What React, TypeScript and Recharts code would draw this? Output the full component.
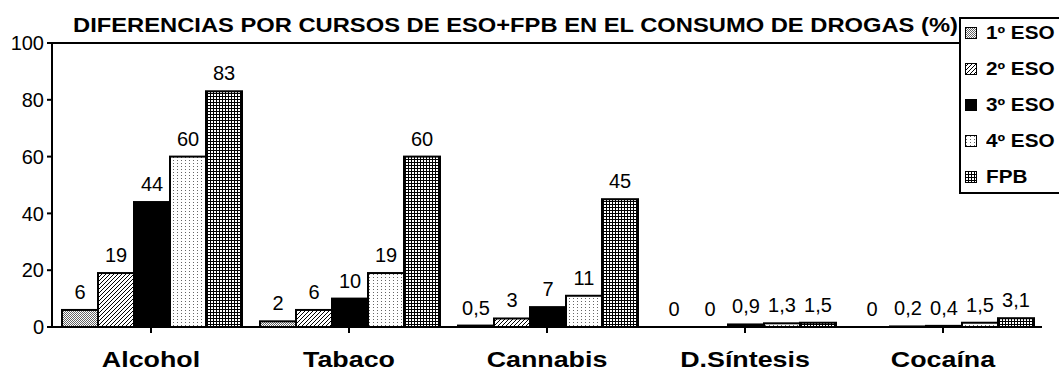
import React from 'react';
import { BarChart, Bar, XAxis, YAxis, LabelList, ReferenceLine } from 'recharts';

const categories = ['Alcohol', 'Tabaco', 'Cannabis', 'D.Síntesis', 'Cocaína'];
const eso1 = [6, 2, 0.5, 0, 0];
const eso2 = [19, 6, 3, 0, 0.2];
const eso3 = [44, 10, 7, 0.9, 0.4];
const eso4 = [60, 19, 11, 1.3, 1.5];
const fpb = [83, 60, 45, 1.5, 3.1];
const yTicks = [0, 20, 40, 60, 80, 100];

const seriesDefs = [
  { key: 'eso1', name: '1º ESO', values: eso1, fill: 'url(#p1)' },
  { key: 'eso2', name: '2º ESO', values: eso2, fill: 'url(#p2)' },
  { key: 'eso3', name: '3º ESO', values: eso3, fill: '#000' },
  { key: 'eso4', name: '4º ESO', values: eso4, fill: 'url(#p4)' },
  { key: 'fpb', name: 'FPB', values: fpb, fill: 'url(#p5)' },
];

const data = categories.map((c, i) => {
  const row: any = { name: c };
  seriesDefs.forEach((s) => (row[s.key] = s.values[i]));
  return row;
});

const FONT = '"Liberation Sans", Arial, sans-serif';
const fmt = (v: any) => String(v).replace('.', ',');

const CatTick = (props: any) => {
  const { x, y, payload } = props;
  return (
    <g transform={`translate(${x},${y + 32}) scale(1.22,1)`}>
      <text x={0} y={0} textAnchor="middle" fontFamily={FONT} fontWeight="bold" fontSize={22} fill="#000" stroke="none">
        {payload.value}
      </text>
    </g>
  );
};

const labelText = (cx: number, y: number, value: any) => (
  <text x={cx} y={y - 11} textAnchor="middle" fontFamily={FONT} fontSize={20} fill="#000" stroke="none" strokeWidth={0}>
    {fmt(value)}
  </text>
);

const ValueLabel = (props: any) => {
  const { x, y, width, value } = props;
  if (value === undefined || value === null || value === 0 || Number.isNaN(Number(x))) return null;
  return labelText(Number(x) + Number(width) / 2, Number(y), value);
};

const makeShape = (key: string) => (props: any) => {
  const { x, y, width, height, fill, payload } = props;
  const v = payload ? payload[key] : undefined;
  const h = Number(height) || 0;
  return (
    <g>
      {h > 0 ? (
        <rect x={x} y={y} width={width} height={h} fill={fill} stroke="#000" strokeWidth={2} />
      ) : null}
      {v === 0 ? labelText(Number(x) + Number(width) / 2, Number(y) + h, 0) : null}
    </g>
  );
};

const LegendBox = () => (
  <div
    style={{
      position: 'absolute',
      left: 959,
      top: 17,
      width: 120,
      height: 173,
      background: '#fff',
      border: '2px solid #000',
      fontFamily: FONT,
      fontWeight: 'bold',
      fontSize: 18,
      boxSizing: 'content-box',
    }}
  >
    {seriesDefs.map((s, i) => (
      <div key={s.key} style={{ position: 'absolute', left: 4, top: 3 + i * 36, height: 22, display: 'flex', alignItems: 'center' }}>
        <svg width={12} height={12} style={{ marginRight: 9 }}>
          <rect x={0.5} y={0.5} width={11} height={11} fill={s.fill} stroke="#000" strokeWidth={1} />
        </svg>
        <span style={{ lineHeight: '22px', display: 'inline-block', transform: 'scaleX(1.15)', transformOrigin: 'left center', whiteSpace: 'nowrap' }}>
          {s.name}
        </span>
      </div>
    ))}
  </div>
);

export default function App() {
  return (
    <div style={{ position: 'absolute', left: 0, top: 0, width: 1059, height: 370, background: '#fff', overflow: 'hidden' }}>
      <svg width={0} height={0} style={{ position: 'absolute' }}>
        <defs>
          <pattern id="p1" patternUnits="userSpaceOnUse" width={2} height={2}>
            <rect width={2} height={2} fill="#fff" />
            <rect x={0} y={0} width={1} height={1} fill="#666" />
            <rect x={1} y={1} width={1} height={1} fill="#666" />
          </pattern>
          <pattern id="p2" patternUnits="userSpaceOnUse" width={4} height={4}>
            <rect width={4} height={4} fill="#fff" />
            <path d="M-1,1 l2,-2 M0,4 l4,-4 M3,5 l2,-2" stroke="#000" strokeWidth={1} />
          </pattern>
          <pattern id="p4" patternUnits="userSpaceOnUse" width={4} height={3}>
            <rect width={4} height={3} fill="#fff" />
            <rect x={1} y={1} width={1} height={1} fill="#666" />
          </pattern>
          <pattern id="p5" patternUnits="userSpaceOnUse" width={3} height={3}>
            <rect width={3} height={3} fill="#fff" />
            <rect x={0} y={0} width={3} height={1} fill="#000" />
            <rect x={0} y={0} width={1} height={3} fill="#000" />
          </pattern>
        </defs>
      </svg>
      <div
        style={{
          position: 'absolute',
          left: 73,
          top: 13,
          fontFamily: FONT,
          fontWeight: 'bold',
          fontSize: 21,
          lineHeight: '24px',
          whiteSpace: 'nowrap',
          transform: 'scaleX(1.13)',
          transformOrigin: 'left top',
        }}
      >
        DIFERENCIAS POR CURSOS DE ESO+FPB EN EL CONSUMO DE DROGAS (%)
      </div>
      <div style={{ position: 'absolute', left: 0, top: 0 }}>
        <BarChart
          width={1059}
          height={370}
          data={data}
          margin={{ top: 43, right: 17, bottom: 0, left: 0 }}
          barCategoryGap={10}
          barGap={0}
        >
          <XAxis
            dataKey="name"
            height={43}
            tick={<CatTick />}
            tickSize={6}
            axisLine={{ stroke: '#000', strokeWidth: 2 }}
            tickLine={{ stroke: '#000', strokeWidth: 2 }}
            interval={0}
          />
          <YAxis
            width={52}
            domain={[0, 100]}
            ticks={yTicks}
            tickSize={5}
            tickMargin={3}
            axisLine={{ stroke: '#000', strokeWidth: 2 }}
            tickLine={{ stroke: '#000', strokeWidth: 2 }}
            tick={{ fill: '#000', fontFamily: FONT, fontSize: 20 }}
            interval={0}
          />
          <YAxis
            yAxisId="right"
            orientation="right"
            width={0}
            domain={[0, 100]}
            tick={false}
            tickLine={false}
            axisLine={{ stroke: '#000', strokeWidth: 2 }}
          />
          <ReferenceLine y={100} stroke="#000" strokeWidth={2} />
          {seriesDefs.map((s) => (
            <Bar
              key={s.key}
              dataKey={s.key}
              name={s.name}
              fill={s.fill}
              stroke="#000"
              strokeWidth={2}
              isAnimationActive={false}
              shape={makeShape(s.key)}
            >
              <LabelList dataKey={s.key} content={<ValueLabel />} />
            </Bar>
          ))}
        </BarChart>
      </div>
      <LegendBox />
    </div>
  );
}
